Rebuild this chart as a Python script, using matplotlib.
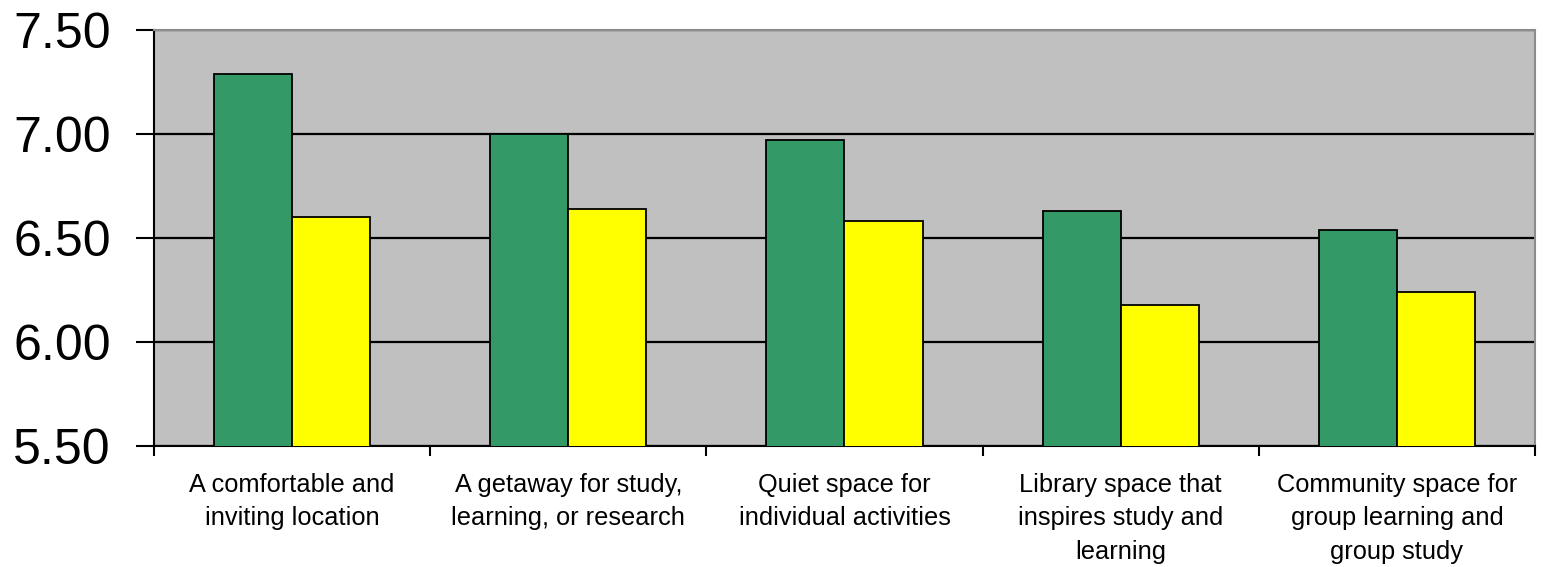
import matplotlib
matplotlib.use("Agg")
import matplotlib.pyplot as plt
import numpy as np

categories = [
    "A comfortable and\ninviting location",
    "A getaway for study,\nlearning, or research",
    "Quiet space for\nindividual activities",
    "Library space that\ninspires study and\nlearning",
    "Community space for\ngroup learning and\ngroup study",
]
series_green = [7.29, 7.00, 6.97, 6.63, 6.54]
series_yellow = [6.60, 6.64, 6.58, 6.18, 6.24]
y_ticks = [5.50, 6.00, 6.50, 7.00, 7.50]

plt.rcParams["font.family"] = ["Liberation Sans", "DejaVu Sans"]

fig = plt.figure(figsize=(15.43, 5.67), dpi=100)
ax = fig.add_axes([0.0998, 0.2134, 0.8950, 0.7336])
ax.set_facecolor("#C0C0C0")

x = np.arange(len(categories))
w = 0.283
ax.set_axisbelow(True)
ax.yaxis.grid(True, color="black", linewidth=1.6)
ax.bar(x - w / 2, series_green, width=w, color="#339966",
       edgecolor="black", linewidth=1.3, zorder=3)
ax.bar(x + w / 2, series_yellow, width=w, color="#FFFF00",
       edgecolor="black", linewidth=1.3, zorder=3)

ax.set_ylim(5.5, 7.5)
ax.set_xlim(-0.5, len(categories) - 0.5)
ax.set_yticks(y_ticks)
ax.set_yticklabels([f"{v:.2f}" for v in y_ticks], fontsize=36)
ax.tick_params(axis="y", direction="out", length=13, width=1.5,
               color="black", pad=18)

# category boundaries get tick marks, labels sit at the centers
ax.set_xticks(np.arange(-0.5, len(categories), 1.0))
ax.set_xticklabels([])
ax.tick_params(axis="x", which="major", direction="out", length=7,
               width=1.5, color="black")
ax.set_xticks(x, minor=True)
ax.set_xticklabels(categories, minor=True, fontsize=18.3, linespacing=1.49)
ax.tick_params(axis="x", which="minor", length=0, pad=19.5)

for side in ("left", "bottom"):
    ax.spines[side].set_color("black")
    ax.spines[side].set_linewidth(1.5)
for side in ("top", "right"):
    ax.spines[side].set_color("#8C8C8C")
    ax.spines[side].set_linewidth(1.5)

fig.savefig("out.png", dpi=100, facecolor="white")
